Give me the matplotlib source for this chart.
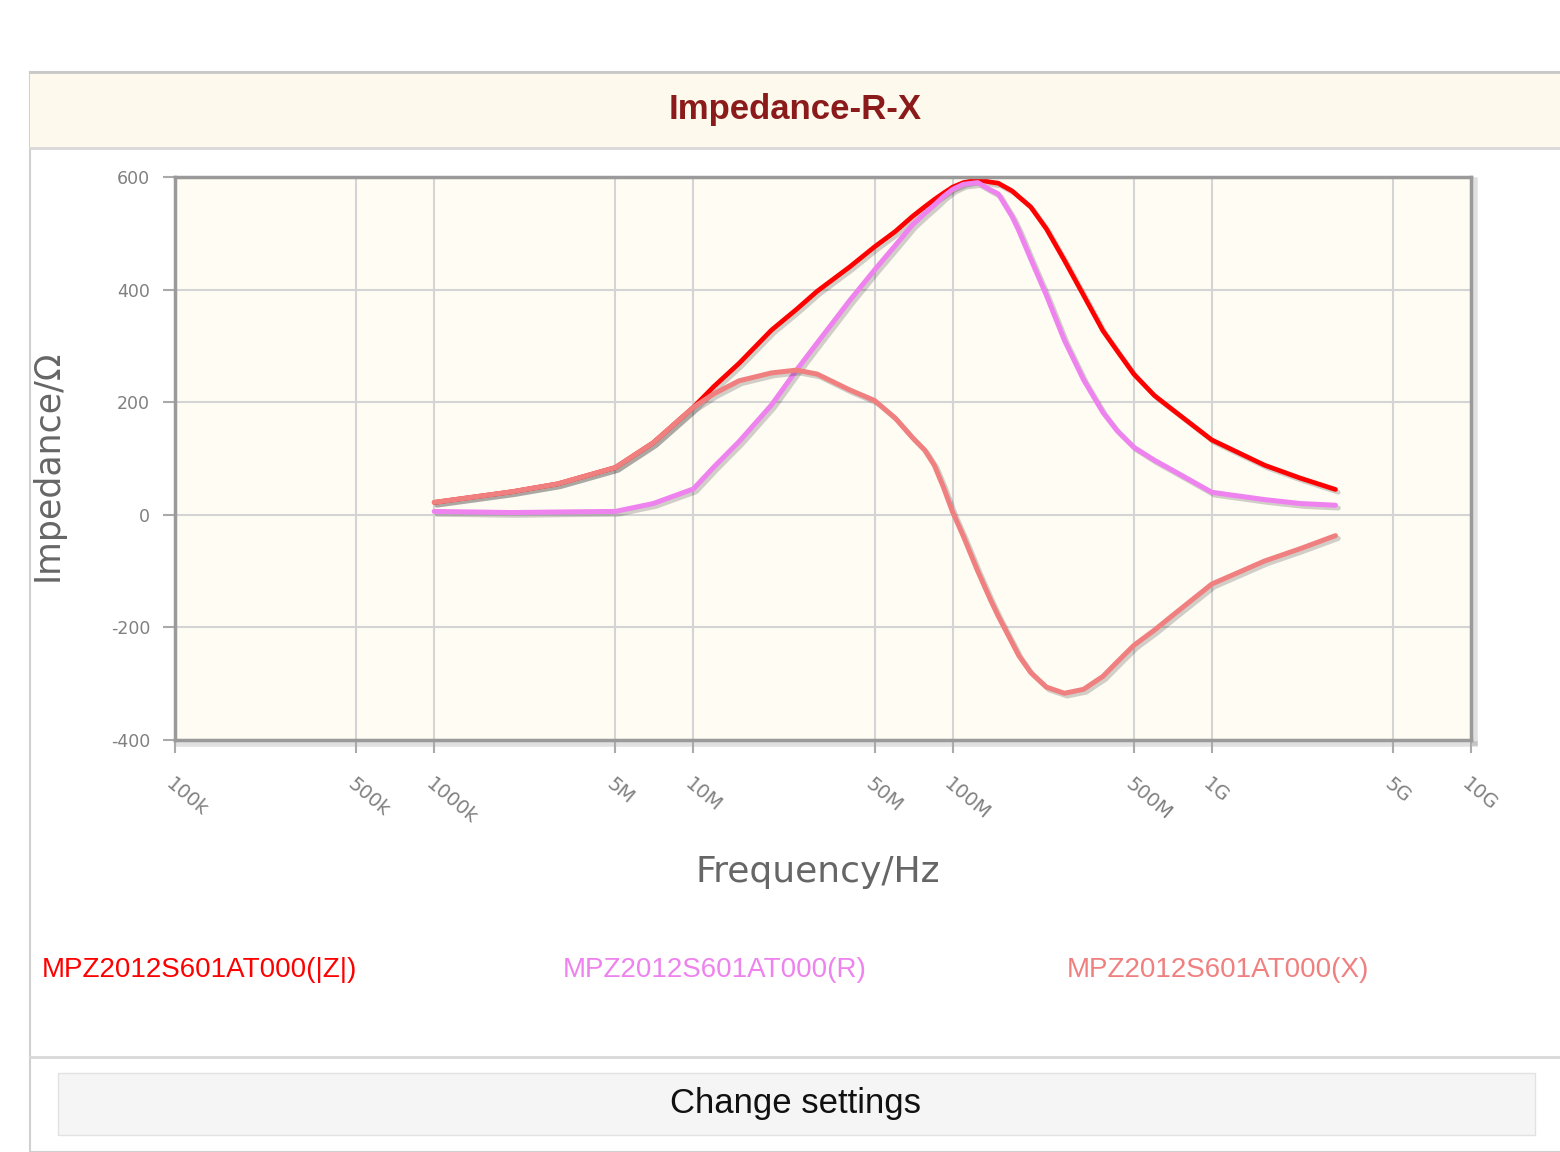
import matplotlib.pyplot as plt
import matplotlib.patheffects as pe
from matplotlib.patches import Rectangle

# data (frequency in MHz, impedance in ohm)
freq_mhz = [1, 2, 3, 5, 7, 10, 12, 15, 20, 25, 30, 40, 50, 60, 70, 78, 85, 92, 100, 110, 125,
            140, 150, 170, 180, 200, 230, 270, 320, 380, 430, 500, 600, 700, 1000,
            1600, 2200, 3000]
z_abs = [22, 41, 55, 84, 128, 191, 228, 269, 328, 365, 397, 440, 476, 503, 530, 547, 560, 571, 582, 590, 595,
         591, 589, 575, 565, 547, 508, 452, 390, 327, 292, 250, 212, 188, 133,
         88, 65, 45]
r_val = [6, 4, 5, 6, 20, 46, 85, 130, 195, 257, 305, 380, 435, 478, 515, 535, 550, 565, 578, 587, 590,
         577, 570, 529, 505, 455, 390, 310, 240, 182, 150, 120, 97, 80, 40,
         27, 20, 17]
x_val = [22, 41, 55, 84, 128, 191, 215, 238, 252, 257, 250, 222, 203, 172, 137, 115, 88, 50, 5, -38, -100,
         -151, -180, -228, -250, -280, -306, -317, -310, -287, -262, -232, -205, -180, -123,
         -82, -60, -37]

series_names = ['MPZ2012S601AT000(|Z|)', 'MPZ2012S601AT000(R)', 'MPZ2012S601AT000(X)']
series_colors = ['#ff0000', '#ee82ee', '#f08080']

xticks = [1e5, 5e5, 1e6, 5e6, 1e7, 5e7, 1e8, 5e8, 1e9, 5e9, 1e10]
xtick_labels = ['100k', '500k', '1000k', '5M', '10M', '50M', '100M', '500M', '1G', '5G', '10G']
yticks = [-400, -200, 0, 200, 400, 600]

W, H = 1560, 1152
fig = plt.figure(figsize=(W / 100, H / 100), dpi=100)

# page / panel decoration in pixel coords
bg = fig.add_axes([0, 0, 1, 1])
bg.set_xlim(0, W)
bg.set_ylim(H, 0)
bg.axis('off')
bg.add_patch(Rectangle((30, 72), W, 1080, facecolor='white', edgecolor='#d0d0d0', lw=1.5))
bg.add_patch(Rectangle((30, 72), W, 76, facecolor='#fef9ed', edgecolor='none'))
bg.plot([30, W], [72, 72], color='#c8c8c8', lw=2)
bg.plot([30, W], [148, 148], color='#d8d8d8', lw=2)
bg.plot([30, W], [1057, 1057], color='#d8d8d8', lw=2)
bg.add_patch(Rectangle((58, 1073), 1477, 62, facecolor='#f5f5f5', edgecolor='#e2e2e2', lw=1))
bg.text(795, 109, 'Impedance-R-X', ha='center', va='center', fontsize=25,
        fontweight='bold', color='#8b1a1a', family='Liberation Sans')
bg.text(795, 1104, 'Change settings', ha='center', va='center', fontsize=25,
        color='#111111', family='Liberation Sans')
legend_x = [42, 563, 1067]
for name, col, lx in zip(series_names, series_colors, legend_x):
    bg.text(lx, 970, name, ha='left', va='center', fontsize=20, color=col,
            family='Liberation Sans')
bg.text(818, 872, 'Frequency/Hz', ha='center', va='center', fontsize=26, color='#666666')
bg.text(48, 465, 'Impedance/\u03a9', ha='center', va='center', fontsize=25,
        color='#666666', rotation=90)
# soft shadow of the plot frame
bg.plot([178, 1475], [743.5, 743.5], color='#000000', alpha=0.12, lw=4)
bg.plot([1474.5, 1474.5], [180, 743], color='#000000', alpha=0.12, lw=4)

# plot area
left, right, top, bottom = 175, 1471, 177, 740
ax = fig.add_axes([left / W, 1 - bottom / H, (right - left) / W, (bottom - top) / H])
ax.set_facecolor('#fffcf4')
ax.set_xscale('log')
ax.set_xlim(1e5, 1e10)
ax.set_ylim(-400, 600)
ax.set_xticks(xticks)
ax.set_xticklabels(xtick_labels, rotation=-40, ha='left', va='top',
                   rotation_mode='anchor', fontsize=14, color='#808080')
ax.minorticks_off()
ax.set_yticks(yticks)
ax.set_yticklabels([str(v) for v in yticks], fontsize=12.5, color='#808080')
ax.tick_params(axis='both', length=9, width=1.5, color='#aaaaaa', pad=9)
ax.tick_params(axis='x', pad=16)
ax.grid(True, color='#d4d4d4', lw=1.5)
ax.set_axisbelow(True)
for s in ax.spines.values():
    s.set_color('#9a9a9a')
    s.set_linewidth(2.5)

freq_hz = [f * 1e6 for f in freq_mhz]
shadow = [pe.SimpleLineShadow(offset=(2, -2), shadow_color='black', alpha=0.18), pe.Normal()]
for vals, col, lw in zip([z_abs, r_val, x_val], series_colors, [3.4, 3.6, 3.6]):
    ax.plot(freq_hz, vals, color=col, lw=lw, solid_capstyle='round',
            solid_joinstyle='round', path_effects=shadow)

fig.savefig('out.png', dpi=100)
